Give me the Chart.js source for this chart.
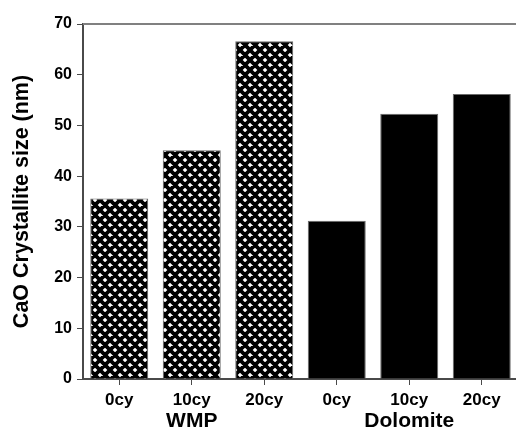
<!DOCTYPE html>
<html>
<head>
<meta charset="utf-8">
<script src="https://cdn.jsdelivr.net/npm/chart.js@4.4.1/dist/chart.umd.min.js"></script>
<style>
  html, body { margin: 0; padding: 0; background: #ffffff; overflow: hidden; }
  #wrap { width: 516px; height: 430px; overflow: hidden; }
</style>
</head>
<body>
<div id="wrap"><canvas id="chart" width="518" height="430"></canvas></div>
<script>
// Crystallite size of CaO after 0, 10 and 20 carbonation cycles
const categories = ['0cy', '10cy', '20cy', '0cy', '10cy', '20cy'];
const groups = ['WMP', 'Dolomite'];
const groupCenters = [1, 4];           // category index each group label sits under
const sizes = [35.6, 45.1, 66.6, 31.2, 52.3, 56.2];
const yTicks = [0, 10, 20, 30, 40, 50, 60, 70];

const FONT = "Arial, 'Liberation Sans', sans-serif";
const AXIS = '#4a4a4a';

// Cross-hatch fill used for the WMP bars
function crossHatch() {
  const s = 10;
  const c = document.createElement('canvas');
  c.width = s; c.height = s;
  const g = c.getContext('2d');
  g.fillStyle = '#ffffff';
  g.fillRect(0, 0, s, s);
  g.strokeStyle = '#000000';
  g.lineWidth = 3.8;
  g.beginPath();
  for (const o of [-s, 0, s]) {
    g.moveTo(o, 0); g.lineTo(o + s, s);
    g.moveTo(o + s, 0); g.lineTo(o, s);
  }
  g.stroke();
  return g.createPattern(c, 'repeat');
}
const hatch = crossHatch();
const fills = categories.map((_, i) => (i < 3 ? hatch : '#000000'));

// Top frame line and the group names under the axis
const framePlugin = {
  id: 'frame',
  afterDraw(chart) {
    const { ctx, chartArea: a, scales } = chart;
    ctx.save();
    ctx.strokeStyle = '#808080';
    ctx.lineWidth = 2;
    ctx.beginPath();
    ctx.moveTo(a.left, a.top);
    ctx.lineTo(a.right, a.top);
    ctx.stroke();

    ctx.fillStyle = '#000000';
    ctx.font = 'bold 21px ' + FONT;
    ctx.textAlign = 'center';
    ctx.textBaseline = 'middle';
    groups.forEach((name, i) => {
      const x = scales.x.getPixelForValue(groupCenters[i]);
      ctx.fillText(name, x, a.bottom + 42);
    });
    ctx.restore();
  }
};

new Chart(document.getElementById('chart'), {
  type: 'bar',
  data: {
    labels: categories,
    datasets: [{
      data: sizes,
      backgroundColor: fills,
      borderColor: '#6a6a6a',
      borderWidth: 1,
      categoryPercentage: 1.0,
      barPercentage: 0.8
    }]
  },
  options: {
    responsive: false,
    animation: false,
    layout: { padding: { top: 24, right: 0, bottom: 0, left: 0 } },
    plugins: { legend: { display: false }, tooltip: { enabled: false } },
    scales: {
      x: {
        offset: true,
        grid: {
          offset: false,
          display: true,
          drawOnChartArea: false,
          drawTicks: true,
          tickLength: 6,
          color: AXIS,
          lineWidth: 1
        },
        border: { display: true, color: AXIS, width: 2 },
        ticks: {
          color: '#000000',
          font: { family: FONT, size: 17, weight: 'bold' },
          padding: 5,
          maxRotation: 0,
          autoSkip: false
        },
        afterFit(scale) { scale.height = 51; }
      },
      y: {
        min: 0,
        max: 70,
        afterBuildTicks(scale) { scale.ticks = yTicks.map(v => ({ value: v })); },
        grid: {
          display: true,
          drawOnChartArea: false,
          drawTicks: true,
          tickLength: 6,
          color: AXIS,
          lineWidth: 1
        },
        border: { display: true, color: AXIS, width: 2 },
        ticks: {
          color: '#000000',
          font: { family: FONT, size: 16, weight: 'bold' },
          padding: 5
        },
        title: {
          display: true,
          text: 'CaO Crystallite size (nm)',
          color: '#000000',
          font: { family: FONT, size: 21.5, weight: 'bold' },
          padding: { top: 9, bottom: 0 }
        },
        afterFit(scale) { scale.width = 83; }
      }
    }
  },
  plugins: [framePlugin]
});
</script>
</body>
</html>
